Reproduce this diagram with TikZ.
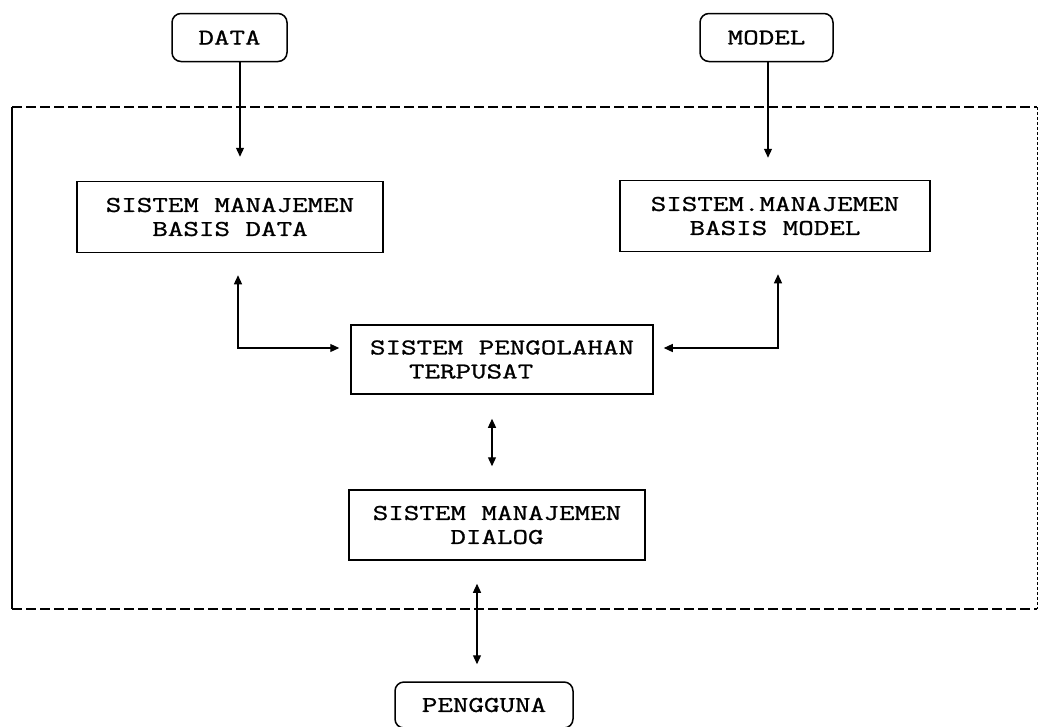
\documentclass[tikz,border=0pt]{standalone}
\usepackage{fontspec}
\setmonofont{Latin Modern Mono}[FakeStretch=1.34, FakeBold=1.1]
\usetikzlibrary{arrows.meta}
\begin{document}
\begin{tikzpicture}[x=1pt,y=-1pt,
  every node/.style={font=\ttfamily\fontsize{22.5}{24}\selectfont, inner sep=0pt},
  sysbox/.style={draw, line width=1.5pt, minimum width=#1, minimum height=71pt, align=center},
  terminal/.style={draw, line width=1.5pt, rounded corners=9pt, minimum width=#1, minimum height=48pt},
  feed/.style={line width=1.2pt, -{Triangle[length=9pt,width=8pt]}},
  link/.style={line width=1.2pt, {Triangle[length=9pt,width=8pt]}-{Triangle[length=9pt,width=8pt]}},
  border/.style={line width=1.4pt, dash pattern=on 10pt off 4pt}]
\useasboundingbox (0,0) rectangle (1039,726);

% system boundary: solid on the left, dashed elsewhere
\coordinate (ftl) at (12,107);
\coordinate (ftr) at (1037,107);
\coordinate (fbr) at (1037,609);
\coordinate (fbl) at (12,609);
\draw[line width=1.6pt] (ftl) -- (fbl);
\draw[border] (ftl) -- (ftr);
\draw[line width=0.9pt, dash pattern=on 3pt off 2pt] (ftr) -- (fbr);
\draw[border] (fbl) -- (fbr);

% external sources and user
\node[terminal=115pt] (data) at (229.5,37.5) {DATA};
\node[terminal=133pt] (model) at (766.5,37.5) {MODEL};
\node[terminal=178pt, minimum height=46pt] (user) at (484,705) {PENGGUNA};

% subsystems
\node[sysbox=306pt] (sbd) at (230,217) {SISTEM MANAJEMEN\\BASIS DATA};
\node[sysbox=310pt] (sbm) at (775,216) {SISTEM.MANAJEMEN\\BASIS MODEL};
\node[sysbox=302pt, minimum height=69pt, align=left] (spt) at (502,359.5)
  {SISTEM PENGOLAHAN\\\hspace*{39pt}TERPUSAT};
\node[sysbox=296pt, minimum height=70pt] (smd) at (497,525) {SISTEM MANAJEMEN\\DIALOG};

% columns and corners of the connectors
\coordinate (dcol) at (240,0);
\coordinate (mcol) at (768,0);
\coordinate (lcor) at (238,348);
\coordinate (rcor) at (778,348);
\coordinate (ccol) at (492,0);
\coordinate (ucol) at (477,0);

% connectors
\draw[feed, shorten >=24pt] (data.south -| dcol) -- (sbd.north -| dcol);
\draw[feed, shorten >=22pt] (model.south -| mcol) -- (sbm.north -| mcol);
\draw[link, shorten <=22pt, shorten >=11pt] (sbd.south -| lcor) -- (lcor) -- (spt.west |- lcor);
\draw[link, shorten <=10pt, shorten >=22pt] (spt.east |- rcor) -- (rcor) -- (sbm.south -| rcor);
\draw[link, shorten <=24pt, shorten >=23pt] (spt.south -| ccol) -- (smd.north -| ccol);
\draw[link, shorten <=23pt, shorten >=17pt] (smd.south -| ucol) -- (user.north -| ucol);
\end{tikzpicture}
\end{document}
